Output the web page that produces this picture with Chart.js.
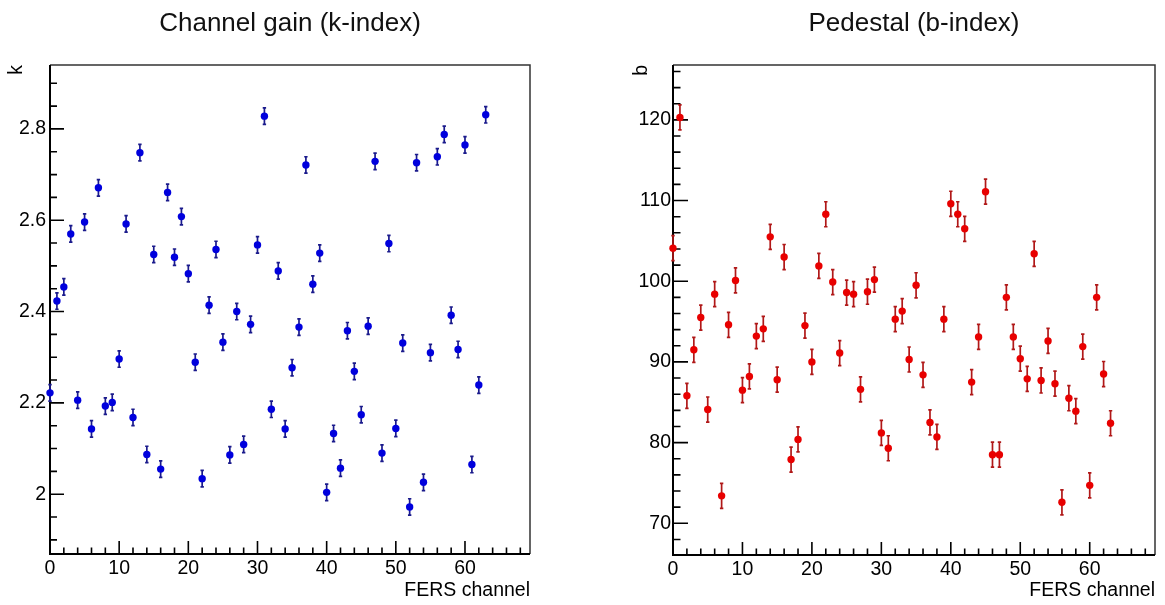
<!DOCTYPE html>
<html>
<head>
<meta charset="utf-8">
<script src="https://cdn.jsdelivr.net/npm/chart.js@4.4.1/dist/chart.umd.min.js"></script>
<style>
  html, body { margin: 0; padding: 0; background: #fff; }
  #cadre { position: relative; width: 1165px; height: 605px; }
  canvas { position: absolute; top: 0; }
</style>
</head>
<body>
<div id="cadre">
  <canvas id="chartK" width="582" height="605" style="left:0"></canvas>
  <canvas id="chartB" width="583" height="605" style="left:582px"></canvas>
</div>
<script>
// Données : gain (k) et piédestal (b) des 64 voies FERS
const canaux = [
  0, 1, 2, 3, 4, 5, 6, 7, 8, 9, 10, 11, 12, 13, 14, 15,
  16, 17, 18, 19, 20, 21, 22, 23, 24, 25, 26, 27, 28, 29, 30, 31,
  32, 33, 34, 35, 36, 37, 38, 39, 40, 41, 42, 43, 44, 45, 46, 47,
  48, 49, 50, 51, 52, 53, 54, 55, 56, 57, 58, 59, 60, 61, 62, 63
];

const gainK = [
  2.222, 2.423, 2.454, 2.570, 2.206, 2.596, 2.143, 2.671,
  2.193, 2.201, 2.296, 2.592, 2.168, 2.748, 2.087, 2.525,
  2.055, 2.661, 2.519, 2.608, 2.483, 2.289, 2.034, 2.414,
  2.536, 2.333, 2.086, 2.400, 2.109, 2.372, 2.546, 2.828,
  2.186, 2.489, 2.143, 2.277, 2.366, 2.721, 2.460, 2.528,
  2.004, 2.133, 2.057, 2.358, 2.269, 2.174, 2.368, 2.729,
  2.090, 2.549, 2.144, 2.331, 1.972, 2.726, 2.026, 2.310,
  2.739, 2.788, 2.392, 2.317, 2.765, 2.065, 2.239, 2.831
];

const piedestalB = [
  104.1, 120.3, 85.8, 91.5, 95.5, 84.1, 98.4, 73.4,
  94.6, 100.1, 86.5, 88.2, 93.2, 94.1, 105.5, 87.8,
  103.0, 77.9, 80.4, 94.5, 90.0, 101.9, 108.3, 99.9,
  91.1, 98.6, 98.4, 86.6, 98.7, 100.2, 81.2, 79.3,
  95.3, 96.3, 90.3, 99.5, 88.4, 82.5, 80.7, 95.3,
  109.6, 108.3, 106.5, 87.5, 93.1, 111.1, 78.5, 78.5,
  98.0, 93.1, 90.4, 87.9, 103.4, 87.7, 92.6, 87.3,
  72.6, 85.5, 83.9, 91.9, 74.7, 98.0, 88.5, 82.4
];

// barres d'erreur (à peu près constantes sur la figure)
const erreurK = 0.018;
const erreurB = 1.55;

// graduations
const ticksX = [0, 10, 20, 30, 40, 50, 60];
const ticksK = [2, 2.2, 2.4, 2.6, 2.8];
const ticksB = [70, 80, 90, 100, 110, 120];

Chart.defaults.font.family = '"Liberation Sans", Arial, sans-serif';
Chart.defaults.color = '#000';

// cadre façon ROOT : graduations vers l'intérieur, barres d'erreur, titre
const cadreRoot = {
  id: 'cadreRoot',
  beforeDatasetsDraw(chart, args, opts) {
    const { ctx, chartArea: a, scales: { x, y } } = chart;
    ctx.save();
    // haut et droite
    ctx.strokeStyle = '#333';
    ctx.lineWidth = 1.5;
    ctx.beginPath();
    ctx.moveTo(a.left, a.top); ctx.lineTo(a.right, a.top); ctx.lineTo(a.right, a.bottom);
    ctx.stroke();
    // axes
    ctx.strokeStyle = '#000';
    ctx.lineWidth = 2;
    ctx.beginPath();
    ctx.moveTo(a.left, a.top); ctx.lineTo(a.left, a.bottom); ctx.lineTo(a.right, a.bottom);
    ctx.stroke();

    ctx.lineWidth = 1.6;
    ctx.beginPath();
    for (let v = Math.ceil(x.min / 2) * 2; v <= x.max; v += 2) {
      const px = x.getPixelForValue(v);
      const long = v % 10 === 0 ? 13 : 6.5;
      ctx.moveTo(px, a.bottom); ctx.lineTo(px, a.bottom - long);
    }
    const pasY = opts.pasMineur;
    for (let i = Math.ceil(y.min / pasY); i * pasY <= y.max; i++) {
      const v = i * pasY;
      const py = y.getPixelForValue(v);
      const long = i % opts.nMineur === 0 ? opts.longMajeur : opts.longMineur;
      ctx.moveTo(a.left, py); ctx.lineTo(a.left + long, py);
    }
    ctx.stroke();

    // barres d'erreur
    ctx.strokeStyle = opts.couleurErreur;
    ctx.lineWidth = 1.7;
    chart.data.datasets.forEach(ds => {
      ctx.beginPath();
      ds.data.forEach(p => {
        const px = x.getPixelForValue(p.x);
        const haut = y.getPixelForValue(p.y + opts.erreur);
        const bas = y.getPixelForValue(p.y - opts.erreur);
        ctx.moveTo(px, haut); ctx.lineTo(px, bas);
        ctx.moveTo(px - 1.7, haut); ctx.lineTo(px + 1.7, haut);
        ctx.moveTo(px - 1.7, bas); ctx.lineTo(px + 1.7, bas);
      });
      ctx.stroke();
    });
    ctx.restore();
  },
  afterDraw(chart, args, opts) {
    const { ctx, chartArea: a } = chart;
    ctx.save();
    ctx.font = '26px "Liberation Sans", Arial, sans-serif';
    ctx.fillStyle = '#111';
    ctx.textAlign = 'center';
    ctx.textBaseline = 'middle';
    ctx.fillText(opts.titre, (a.left + a.right) / 2, 24);
    ctx.restore();
  }
};

function construireGraphique(id, valeurs, p) {
  return new Chart(document.getElementById(id), {
    type: 'scatter',
    data: {
      datasets: [{
        data: canaux.map((c, i) => ({ x: c, y: valeurs[i] })),
        backgroundColor: p.couleur,
        borderWidth: 0,
        pointRadius: 3.7,
        pointHoverRadius: 3.7,
        clip: false
      }]
    },
    options: {
      responsive: false,
      animation: false,
      events: [],
      layout: { padding: { left: p.gauche, right: p.droite, top: 65, bottom: 0 } },
      plugins: {
        legend: { display: false },
        tooltip: { enabled: false },
        cadreRoot: {
          titre: p.titre,
          erreur: p.erreur,
          couleurErreur: p.couleurErreur,
          pasMineur: p.pasMineur,
          nMineur: p.nMineur,
          longMajeur: p.longMajeur,
          longMineur: p.longMineur
        }
      },
      scales: {
        x: {
          type: 'linear',
          min: 0,
          max: 69.4,
          grid: { display: false, drawTicks: false },
          border: { display: false },
          afterBuildTicks: s => { s.ticks = ticksX.map(v => ({ value: v })); },
          afterFit: s => { s.height = p.hauteurX; },
          ticks: { padding: 3, font: { size: 19.5 }, callback: v => String(v) },
          title: {
            display: true, text: 'FERS channel', align: 'end',
            font: { size: 19.5 }, padding: { top: 0, bottom: 3 }
          }
        },
        y: {
          min: p.ymin,
          max: p.ymax,
          grid: { display: false, drawTicks: false },
          border: { display: false },
          afterBuildTicks: s => { s.ticks = p.ticks.map(v => ({ value: v })); },
          afterFit: s => { s.width = p.largeurY; },
          ticks: { padding: p.espaceY, font: { size: 19.5 }, callback: v => String(Math.round(v * 10) / 10) },
          title: {
            display: true, text: p.titreY, align: 'end',
            font: { size: 19.5 }, padding: { top: p.espaceTitreY, bottom: 0 }
          }
        }
      }
    },
    plugins: [cadreRoot]
  });
}

construireGraphique('chartK', gainK, {
  titre: 'Channel gain (k-index)', titreY: 'k',
  couleur: '#0000dd', couleurErreur: '#1a1a8c', erreur: erreurK,
  ymin: 1.869, ymax: 2.94, ticks: ticksK,
  pasMineur: 0.05, nMineur: 4, longMajeur: 14, longMineur: 7,
  gauche: 0, droite: 52, largeurY: 50, hauteurX: 51, espaceY: 4, espaceTitreY: 5
});

construireGraphique('chartB', piedestalB, {
  titre: 'Pedestal (b-index)', titreY: 'b',
  couleur: '#e80000', couleurErreur: '#b01818', erreur: erreurB,
  ymin: 66.07, ymax: 126.8, ticks: ticksB,
  pasMineur: 2, nMineur: 5, longMajeur: 15, longMineur: 7.5,
  gauche: 45, droite: 10, largeurY: 46, hauteurX: 50, espaceY: 2, espaceTitreY: 3
});
</script>
</body>
</html>
